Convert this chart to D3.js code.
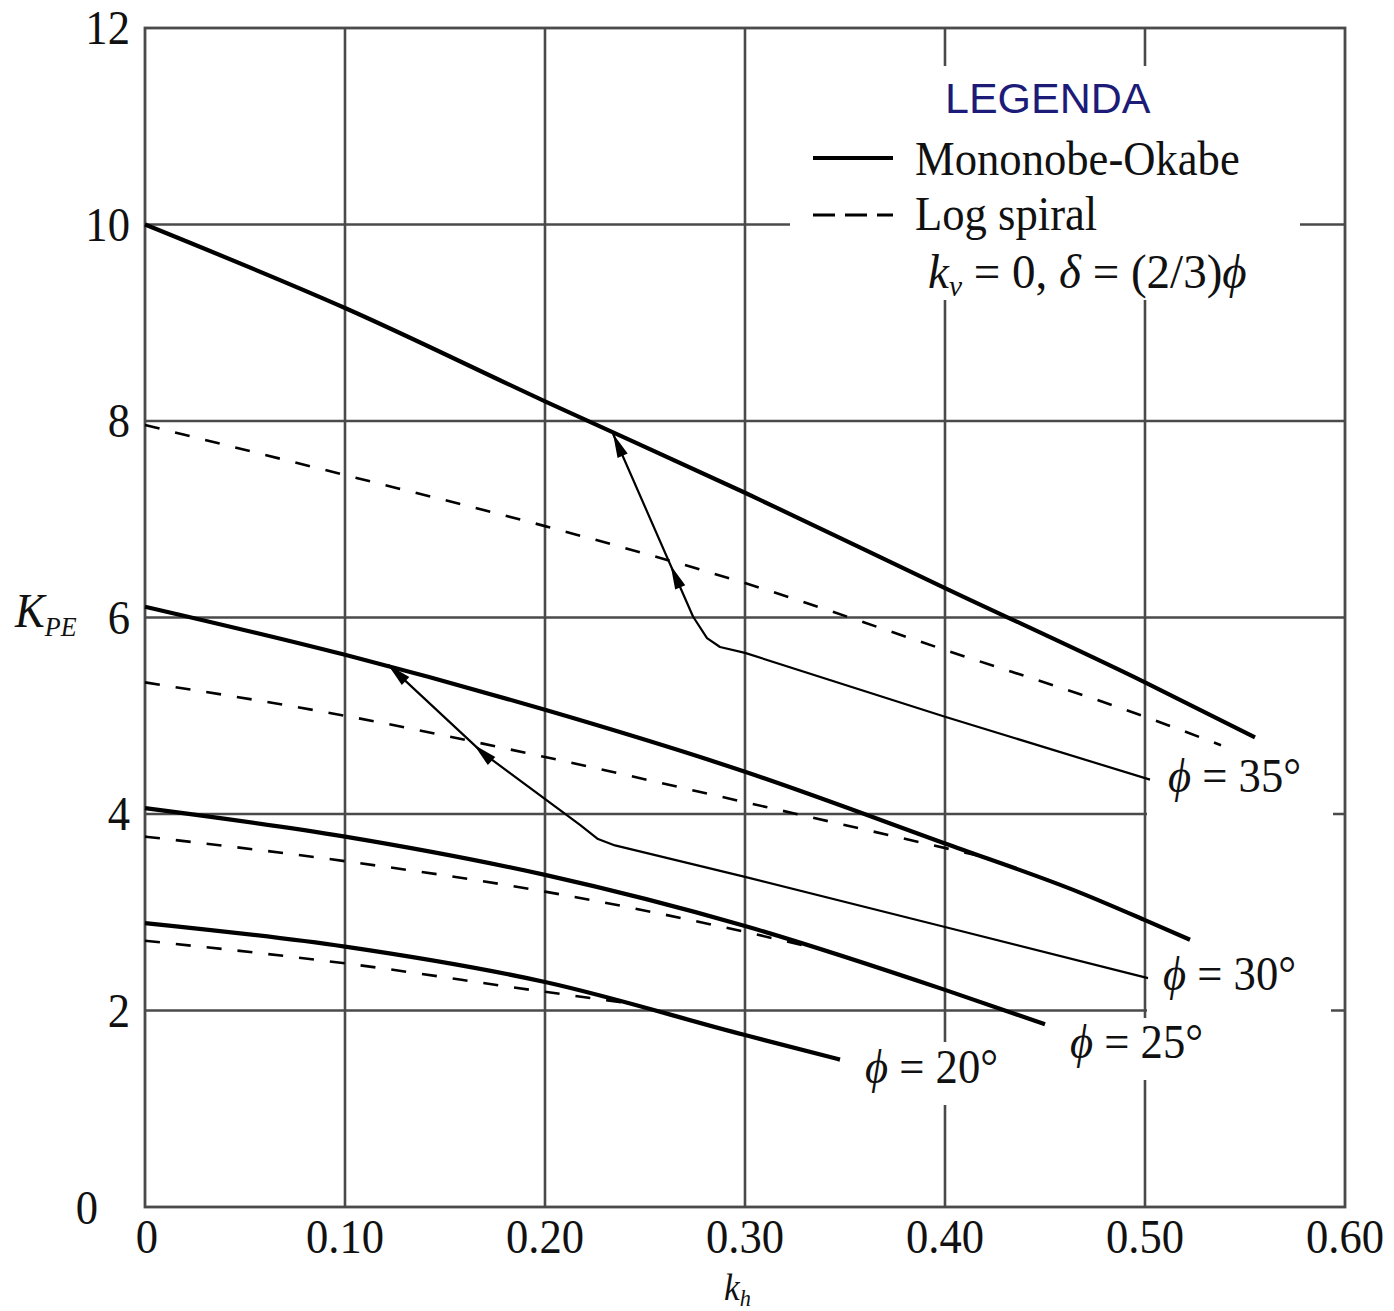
<!DOCTYPE html>
<html>
<head>
<meta charset="utf-8">
<script src="https://cdn.jsdelivr.net/npm/d3@7"></script>
<style>
  body { margin: 0; background: #fff; }
  svg { display: block; }
</style>
</head>
<body>
<svg id="chart" width="1394" height="1311"></svg>
<script>
// Axis ticks
const xTicks = [0, 0.1, 0.2, 0.3, 0.4, 0.5, 0.6];
const xTickLabels = ["0", "0.10", "0.20", "0.30", "0.40", "0.50", "0.60"];
const yTicks = [0, 2, 4, 6, 8, 10, 12];
const yTickLabels = ["0", "2", "4", "6", "8", "10", "12"];

// phi = 35 deg
const mo35Kh = [0, 0.1, 0.2, 0.3, 0.4, 0.5, 0.555];
const mo35K  = [10.0, 9.15, 8.2, 7.27, 6.30, 5.34, 4.78];
const ls35Kh = [0, 0.1, 0.2, 0.3, 0.4, 0.5, 0.538];
const ls35K  = [7.96, 7.45, 6.93, 6.35, 5.67, 4.99, 4.70];
const guide35Kh = [0.234, 0.274, 0.281, 0.2875, 0.30, 0.40, 0.5025];
const guide35K  = [7.87, 6.01, 5.79, 5.70, 5.64, 4.99, 4.35];

// phi = 30 deg
const mo30Kh = [0, 0.1, 0.2, 0.3, 0.4, 0.4675, 0.5, 0.5225];
const mo30K  = [6.11, 5.62, 5.06, 4.43, 3.70, 3.20, 2.92, 2.72];
const ls30Kh = [0, 0.1, 0.2, 0.3, 0.42];
const ls30K  = [5.34, 5.00, 4.58, 4.12, 3.56];
const guide30Kh = [0.1215, 0.169, 0.2175, 0.2265, 0.235, 0.3, 0.4, 0.5015];
const guide30K  = [5.52, 4.62, 3.89, 3.745, 3.68, 3.36, 2.85, 2.33];

// phi = 25 deg
const mo25Kh = [0, 0.1, 0.2, 0.3, 0.4, 0.45];
const mo25K  = [4.06, 3.77, 3.38, 2.86, 2.21, 1.86];
const ls25Kh = [0, 0.1, 0.2, 0.3, 0.33];
const ls25K  = [3.77, 3.52, 3.21, 2.80, 2.66];

// phi = 20 deg
const mo20Kh = [0, 0.1, 0.2, 0.3, 0.3475];
const mo20K  = [2.89, 2.65, 2.29, 1.75, 1.50];
const ls20Kh = [0, 0.1, 0.2, 0.24];
const ls20K  = [2.71, 2.48, 2.19, 2.08];

const curveLabels = ["35°", "30°", "25°", "20°"];

const svg = d3.select("#chart");
const plotLeft = 145, plotRight = 1345, plotTop = 28, plotBottom = 1207;

const x = d3.scaleLinear().domain([0, 0.6]).range([plotLeft, plotRight]);
const y = d3.scaleLinear().domain([0, 12]).range([plotBottom, plotTop]);

const serif = "'Liberation Serif', 'Times New Roman', serif";
const SX = 0.93;
const gridColor = "#4a4a4a";

const zip = (a, b) => a.map((v, i) => [v, b[i]]);
const line = d3.line().x(d => x(d[0])).y(d => y(d[1])).curve(d3.curveMonotoneX);
const polyline = d3.line().x(d => x(d[0])).y(d => y(d[1])).curve(d3.curveLinear);

// grid
const grid = svg.append("g");
grid.selectAll("line.v").data(xTicks.slice(1, -1)).join("line")
  .attr("x1", d => x(d)).attr("x2", d => x(d))
  .attr("y1", plotTop).attr("y2", plotBottom)
  .attr("stroke", gridColor).attr("stroke-width", 2.6);
grid.selectAll("line.h").data(yTicks.slice(1, -1)).join("line")
  .attr("x1", plotLeft).attr("x2", plotRight)
  .attr("y1", d => y(d)).attr("y2", d => y(d))
  .attr("stroke", gridColor).attr("stroke-width", 2.6);

// frame
svg.append("rect")
  .attr("x", plotLeft).attr("y", plotTop)
  .attr("width", plotRight - plotLeft).attr("height", plotBottom - plotTop)
  .attr("fill", "none").attr("stroke", gridColor).attr("stroke-width", 2.8);

// white areas behind the legend and the curve labels
const mask = svg.append("g").attr("fill", "#fff");
mask.append("rect").attr("x", 790).attr("y", 66).attr("width", 510).attr("height", 180);
mask.append("rect").attr("x", 915).attr("y", 240).attr("width", 345).attr("height", 60);
mask.append("rect").attr("x", 1147).attr("y", 750).attr("width", 186).attr("height", 80);
mask.append("rect").attr("x", 1147).attr("y", 942).attr("width", 184).attr("height", 76);
mask.append("rect").attr("x", 1062).attr("y", 1018).attr("width", 160).attr("height", 62);
mask.append("rect").attr("x", 858).attr("y", 1042).attr("width", 155).attr("height", 63);

// curves
const curves = svg.append("g").attr("fill", "none").attr("stroke", "#000");
[[mo35Kh, mo35K], [mo30Kh, mo30K], [mo25Kh, mo25K], [mo20Kh, mo20K]].forEach(([a, b]) => {
  curves.append("path").attr("d", line(zip(a, b))).attr("stroke-width", 4.2);
});
[[ls35Kh, ls35K], [ls30Kh, ls30K], [ls25Kh, ls25K], [ls20Kh, ls20K]].forEach(([a, b]) => {
  curves.append("path").attr("d", line(zip(a, b))).attr("stroke-width", 2.6)
    .attr("stroke-dasharray", "15,16");
});

// guide paths with arrowheads pointing up to the Mononobe-Okabe curve
[[guide35Kh, guide35K, 0.28], [guide30Kh, guide30K, 0.095]].forEach(([a, b, t]) => {
  const pts = zip(a, b);
  curves.append("path").attr("d", polyline(pts)).attr("stroke-width", 2.2)
    .attr("stroke-linejoin", "round");
  const p0 = [x(pts[0][0]), y(pts[0][1])];
  const p1 = [x(pts[1][0]), y(pts[1][1])];
  const dx = p0[0] - p1[0], dy = p0[1] - p1[1];
  const len = Math.hypot(dx, dy);
  const ux = dx / len, uy = dy / len;
  const head = (tip) => {
    const L = 24, hw = 5.5;
    const bx = tip[0] - ux * L, by = tip[1] - uy * L;
    return [tip, [bx - uy * hw, by + ux * hw], [bx + uy * hw, by - ux * hw]];
  };
  const mid = [p1[0] + dx * t, p1[1] + dy * t];
  [p0, mid].forEach(tip => {
    svg.append("path").attr("d", "M" + head(tip).join("L") + "Z").attr("fill", "#000");
  });
});

// text helper with slight horizontal condensation
function txt(px, py, anchor, sx) {
  return svg.append("text")
    .attr("transform", `translate(${px},${py}) scale(${sx || SX},1)`)
    .attr("text-anchor", anchor || "start")
    .attr("font-family", serif).attr("font-size", 48).attr("fill", "#111");
}

// tick labels
xTicks.forEach((v, i) => txt(x(v) + (i === 0 ? 2 : 0), 1253, "middle").text(xTickLabels[i]));
yTicks.forEach((v, i) => {
  if (i === 0) txt(98, 1224, "end").text(yTickLabels[i]);
  else txt(130, y(v) + 16, "end").text(yTickLabels[i]);
});

// axis titles
const kh = txt(724, 1300, "start").attr("font-size", 38);
kh.append("tspan").attr("font-style", "italic").text("k");
kh.append("tspan").attr("font-style", "italic").attr("font-size", 24).attr("dy", 6).text("h");

const kpe = txt(15, 627, "start").attr("font-size", 48);
kpe.append("tspan").attr("font-style", "italic").text("K");
kpe.append("tspan").attr("font-style", "italic").attr("font-size", 28).attr("dy", 9).text("PE");

// legend
svg.append("text").attr("x", 945).attr("y", 113)
  .attr("font-family", "'Liberation Sans', Arial, sans-serif").attr("font-size", 43)
  .attr("fill", "#1c1c78").text("LEGENDA");
svg.append("line").attr("x1", 813).attr("x2", 893).attr("y1", 158).attr("y2", 158)
  .attr("stroke", "#000").attr("stroke-width", 4);
txt(915, 175).text("Mononobe-Okabe");
svg.append("line").attr("x1", 813).attr("x2", 893).attr("y1", 215).attr("y2", 215)
  .attr("stroke", "#000").attr("stroke-width", 3).attr("stroke-dasharray", "22,10");
txt(915, 230).text("Log spiral");
const cond = txt(928, 288, "start", 0.98);
cond.append("tspan").attr("font-style", "italic").text("k");
cond.append("tspan").attr("font-style", "italic").attr("font-size", 30).attr("dy", 8).text("v");
cond.append("tspan").attr("dy", -8).text(" = 0, ");
cond.append("tspan").attr("font-style", "italic").text("δ");
cond.append("tspan").text(" = (2/3)");
cond.append("tspan").attr("font-style", "italic").text("ϕ");

// curve labels
const labelPos = [[1168, 792], [1163, 990], [1070, 1058], [865, 1083]];
curveLabels.forEach((s, i) => {
  const t = txt(labelPos[i][0], labelPos[i][1]);
  t.append("tspan").attr("font-style", "italic").text("ϕ");
  t.append("tspan").text(" = " + s);
});
</script>
</body>
</html>
